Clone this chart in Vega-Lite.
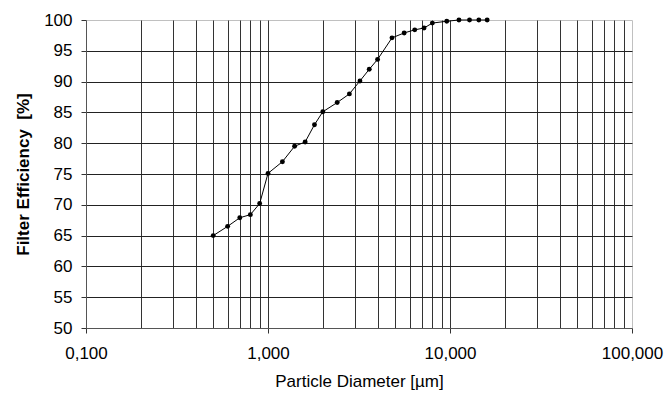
{
  "$schema": "https://vega.github.io/schema/vega-lite/v6.json",
  "width": 546,
  "height": 308,
  "autosize": {"type": "none"},
  "padding": {"left": 86, "top": 20, "right": 34, "bottom": 66},
  "background": "white",
  "config": {
    "view": {"stroke": "#c0c0c0", "strokeWidth": 1},
    "font": "Liberation Sans"
  },
  "data": {
    "values": [
      {"d": 0.5, "eff": 65.0},
      {"d": 0.6, "eff": 66.5},
      {"d": 0.7, "eff": 67.9},
      {"d": 0.8, "eff": 68.4},
      {"d": 0.9, "eff": 70.2},
      {"d": 1.0, "eff": 75.1},
      {"d": 1.2, "eff": 77.0},
      {"d": 1.4, "eff": 79.5},
      {"d": 1.6, "eff": 80.2},
      {"d": 1.8, "eff": 83.0},
      {"d": 2.0, "eff": 85.1},
      {"d": 2.4, "eff": 86.6},
      {"d": 2.8, "eff": 88.0},
      {"d": 3.2, "eff": 90.1},
      {"d": 3.6, "eff": 92.0},
      {"d": 4.0, "eff": 93.6},
      {"d": 4.8, "eff": 97.1},
      {"d": 5.6, "eff": 97.9},
      {"d": 6.4, "eff": 98.4},
      {"d": 7.2, "eff": 98.7},
      {"d": 8.0, "eff": 99.5},
      {"d": 9.6, "eff": 99.8},
      {"d": 11.2, "eff": 100.0},
      {"d": 12.8, "eff": 100.0},
      {"d": 14.4, "eff": 100.0},
      {"d": 16.0, "eff": 100.0}
    ]
  },
  "mark": {
    "type": "line",
    "color": "black",
    "strokeWidth": 1,
    "point": {"filled": true, "color": "black", "size": 24, "shape": "circle"}
  },
  "encoding": {
    "x": {
      "field": "d",
      "type": "quantitative",
      "scale": {"type": "log", "domain": [0.1, 100], "nice": false},
      "axis": {
        "title": "Particle Diameter [µm]",
        "titleFont": "Liberation Sans",
        "titleFontSize": 17,
        "titleFontWeight": "normal",
        "titleColor": "black",
        "titlePadding": 12,
        "values": [0.1, 0.2, 0.3, 0.4, 0.5, 0.6, 0.7, 0.8, 0.9, 1, 2, 3, 4, 5, 6, 7, 8, 9, 10, 20, 30, 40, 50, 60, 70, 80, 90, 100],
        "labelExpr": "indexof([0.1, 1, 10, 100], datum.value) >= 0 ? replace(format(datum.value, '.3f'), '.', ',') : ''",
        "labelFont": "Liberation Sans",
        "labelFontSize": 17,
        "labelColor": "black",
        "labelFlush": false,
        "labelOverlap": false,
        "labelBound": false,
        "labelPadding": 12,
        "tickSize": 5,
        "tickColor": {"condition": {"test": "indexof([0.1, 1, 10, 100], datum.value) >= 0", "value": "#333333"}, "value": "transparent"},
        "domainColor": "#555555",
        "grid": true,
        "gridColor": {"condition": {"test": "datum.value > 0.1 && datum.value < 100", "value": "#333333"}, "value": "transparent"},
        "gridOpacity": 1,
        "gridWidth": 1
      }
    },
    "y": {
      "field": "eff",
      "type": "quantitative",
      "scale": {"domain": [50, 100], "nice": false},
      "axis": {
        "title": "Filter Efficiency \u00a0[%]",
        "titleFont": "Liberation Sans",
        "titleFontSize": 17,
        "titleFontWeight": "bold",
        "titleColor": "black",
        "titlePadding": 11,
        "values": [50, 55, 60, 65, 70, 75, 80, 85, 90, 95, 100],
        "labelFont": "Liberation Sans",
        "labelFontSize": 17,
        "labelColor": "black",
        "labelFlush": false,
        "labelOverlap": false,
        "labelPadding": 9,
        "tickSize": 5,
        "tickColor": "#333333",
        "domainColor": "#555555",
        "grid": true,
        "gridColor": {"condition": {"test": "datum.value > 50 && datum.value < 100", "value": "#222222"}, "value": "transparent"},
        "gridOpacity": 1,
        "gridWidth": 1
      }
    }
  }
}
